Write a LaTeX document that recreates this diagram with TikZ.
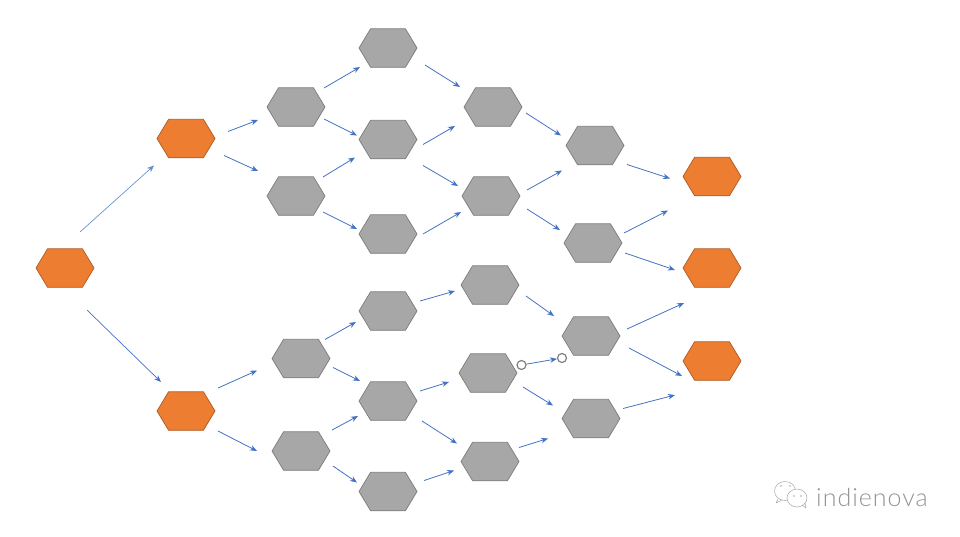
\documentclass[tikz,border=0pt]{standalone}
\usepackage{fontspec}
\setmainfont{Lato}
\newfontfamily\markfont[LetterSpace=4]{Lato Light}
\usetikzlibrary{calc,arrows.meta,shapes.symbols}
\definecolor{hexorange}{HTML}{ED7D31}
\definecolor{hexorangeline}{HTML}{AE5A21}
\definecolor{hexgray}{HTML}{A7A7A7}
\definecolor{hexgrayline}{HTML}{7C7C7C}
\definecolor{linkblue}{HTML}{4472C4}
\definecolor{linklight}{HTML}{5B8FCF}
\tikzset{
	hex/.style={signal, signal to=west and east, signal pointer angle=118, minimum width=58pt, minimum height=38.5pt, inner sep=0pt, outer sep=0pt, line width=.7pt},
	choice/.style={hex, fill=hexorange, draw=hexorangeline},
	state/.style={hex, fill=hexgray, draw=hexgrayline},
	link/.style={draw=linkblue, line width=.8pt, -{Stealth[length=7pt,width=5.5pt]}},
	handle/.style={circle, draw=gray, fill=white, line width=1.2pt, minimum size=9pt, inner sep=0pt},
}
\begin{document}
\begin{tikzpicture}[x=1pt, y=-1pt, line join=round]
	\useasboundingbox (0,0) rectangle (960,536);
	% orange nodes
	\foreach \n/\x/\y in {s/65/268, o1/186/138.5, o2/186/411, e1/712/176.5, e2/712/268, e3/712/361}
		\node[choice] (\n) at (\x,\y) {};
	% gray nodes
	\foreach \n/\x/\y in {a1/296/107, a2/296/196, b1/388/48, b2/388/139.5, b3/388/234,
		c1/493/107, c2/491/196, d1/595/145.5, d2/593/243,
		f1/301/358.5, f2/301/451, g1/388/311, g2/388/401, g3/388/491.5,
		h1/490/285, h2/488/373, h3/490/461.5, i1/591/336, i2/591/418.5}
		\node[state] (\n) at (\x,\y) {};
	% first two links are lighter
	\draw[link, draw=linklight, line width=.65pt] ($(s)+(15,-36)$)--($(o1)+(-32,27)$);
	\draw[link, line width=.7pt] ($(s)+(22,42)$)--($(o2)+(-25,-29)$);
	% from / offset / to / offset
	\foreach \p/\u/\q/\v in {
		o1/{42,-7}/a1/{-38,13}, o1/{38,17}/a2/{-38,-25},
		a1/{28,-19}/b1/{-28,19}, a1/{28,12}/b2/{-31,-4},
		a2/{27,-19}/b2/{-33,18}, a2/{27,16}/b3/{-31,-5},
		b1/{37,17}/c1/{-33,-20}, b2/{35,5}/c1/{-38,19},
		b2/{35,26}/c2/{-33,-10}, b3/{35,0}/c2/{-30,16},
		c1/{33,6}/d1/{-34,-10}, c2/{36,-6}/d1/{-33,25},
		c2/{36,13}/d2/{-33,-13}, d1/{32,19}/e1/{-42,2},
		d2/{31,-10}/e1/{-44,34}, d2/{32,10}/e2/{-37,2},
		i1/{36,-7}/e2/{-28,35}, i1/{38,12}/e3/{-30,15},
		i2/{32,-10}/e3/{-37,34},
		o2/{32,-23}/f1/{-44,12}, o2/{32,20}/f2/{-44,0},
		f1/{24,-19}/g1/{-32,11}, f1/{32,9}/g2/{-28,-20},
		f2/{31,-21}/g2/{-30,15}, f2/{32,15}/g3/{-31,-9},
		g1/{32,-10}/h1/{-35,6}, g2/{32,-10}/h2/{-39,9},
		g2/{34,20}/h3/{-33,-18}, g3/{36,-11}/h3/{-36,9},
		h1/{36,11}/i1/{-37,-20}, h2/{35,14}/i2/{-38,-13},
		h3/{29,-14}/i2/{-43,20}}
		\draw[link] ($(\p)+(\u)$)--($(\q)+(\v)$);
	% the selected link
	\node[handle] (hA) at ($(h2)+(33.5,-8)$) {};
	\node[handle] (hB) at ($(i1)+(-29,22)$) {};
	\draw[link] (hA)--(hB);
	% watermark
	\node[text=gray!85, font=\markfont\fontsize{25}{25}\selectfont, anchor=west, inner sep=0pt] (mark) at (816,497) {indienova};
	\draw[gray!70, line width=.5pt, fill=white] (785,491) circle (10.5pt and 9.5pt);
	\draw[gray!70, line width=.5pt] (778,499)--(776,503)--(782,500);
	\draw[gray!70, line width=.5pt, fill=white] (797,498) circle (10pt and 9pt);
	\draw[gray!70, line width=.5pt] (802,505)--(806,508)--(805,503);
	\foreach \x/\y in {781/486, 790/486, 794/496, 801/496}
		\fill[gray!70] (\x,\y) circle (.9pt);
\end{tikzpicture}
\end{document}
